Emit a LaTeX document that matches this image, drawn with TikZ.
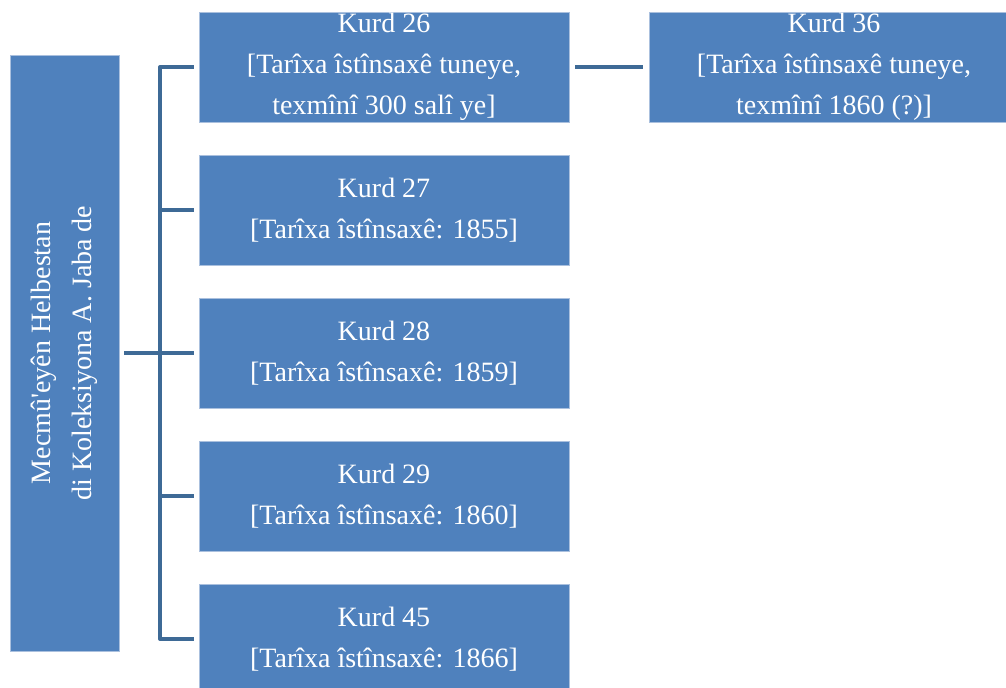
\documentclass[tikz,border=0pt]{standalone}
\usepackage{fontspec}
\setmainfont{Liberation Serif}[Ligatures=TeXOff]
\usepackage{tikz}

\definecolor{boxblue}{RGB}{79,129,189}
\definecolor{boxrim}{RGB}{170,192,222}
\definecolor{linkblue}{RGB}{62,106,150}

\begin{document}
\begin{tikzpicture}[x=0.75pt, y=-0.75pt,
  sheet/.style={rectangle, fill=boxblue, draw=boxrim, line width=0.6pt, text=white, inner sep=0pt,
    minimum width=277.5pt, minimum height=82.5pt, align=center, font=\fontsize{21}{30.75}\selectfont},
  link/.style={draw=linkblue, line width=3pt, line join=round}]
  \useasboundingbox (0,0) rectangle (1006,688);
  \node[sheet, rotate=90, minimum width=447pt, minimum height=81.75pt] (root) at (64.5,353) {Mecmû'eyên Helbestan\\di Koleksiyona A. Jaba de};
  \node[sheet] (k26) at (384,67) {Kurd 26\\{}[Tarîxa îstînsaxê tuneye,\\texmînî 300 salî ye]};
  \node[sheet] (k27) at (384,210) {Kurd 27\\{}[Tarîxa îstînsaxê: 1855]};
  \node[sheet] (k28) at (384,353) {Kurd 28\\{}[Tarîxa îstînsaxê: 1859]};
  \node[sheet] (k29) at (384,496) {Kurd 29\\{}[Tarîxa îstînsaxê: 1860]};
  \node[sheet] (k45) at (384,639) {Kurd 45\\{}[Tarîxa îstînsaxê: 1866]};
  \node[sheet] (k36) at (834,67) {Kurd 36\\{}[Tarîxa îstînsaxê tuneye,\\texmînî 1860 (?)]};
  \coordinate (trunk) at (160,353);
  \draw[link] ([xshift=3.75pt]root.south) -- (trunk);
  \draw[link] ([xshift=-3.75pt]k26.west) -- (trunk |- k26) -- (trunk |- k45) -- ([xshift=-3.75pt]k45.west);
  \draw[link] (trunk |- k27) -- ([xshift=-3.75pt]k27.west);
  \draw[link] (trunk) -- ([xshift=-3.75pt]k28.west);
  \draw[link] (trunk |- k29) -- ([xshift=-3.75pt]k29.west);
  \draw[link] ([xshift=4.5pt]k26.east) -- ([xshift=-4.5pt]k36.west);
\end{tikzpicture}
\end{document}
